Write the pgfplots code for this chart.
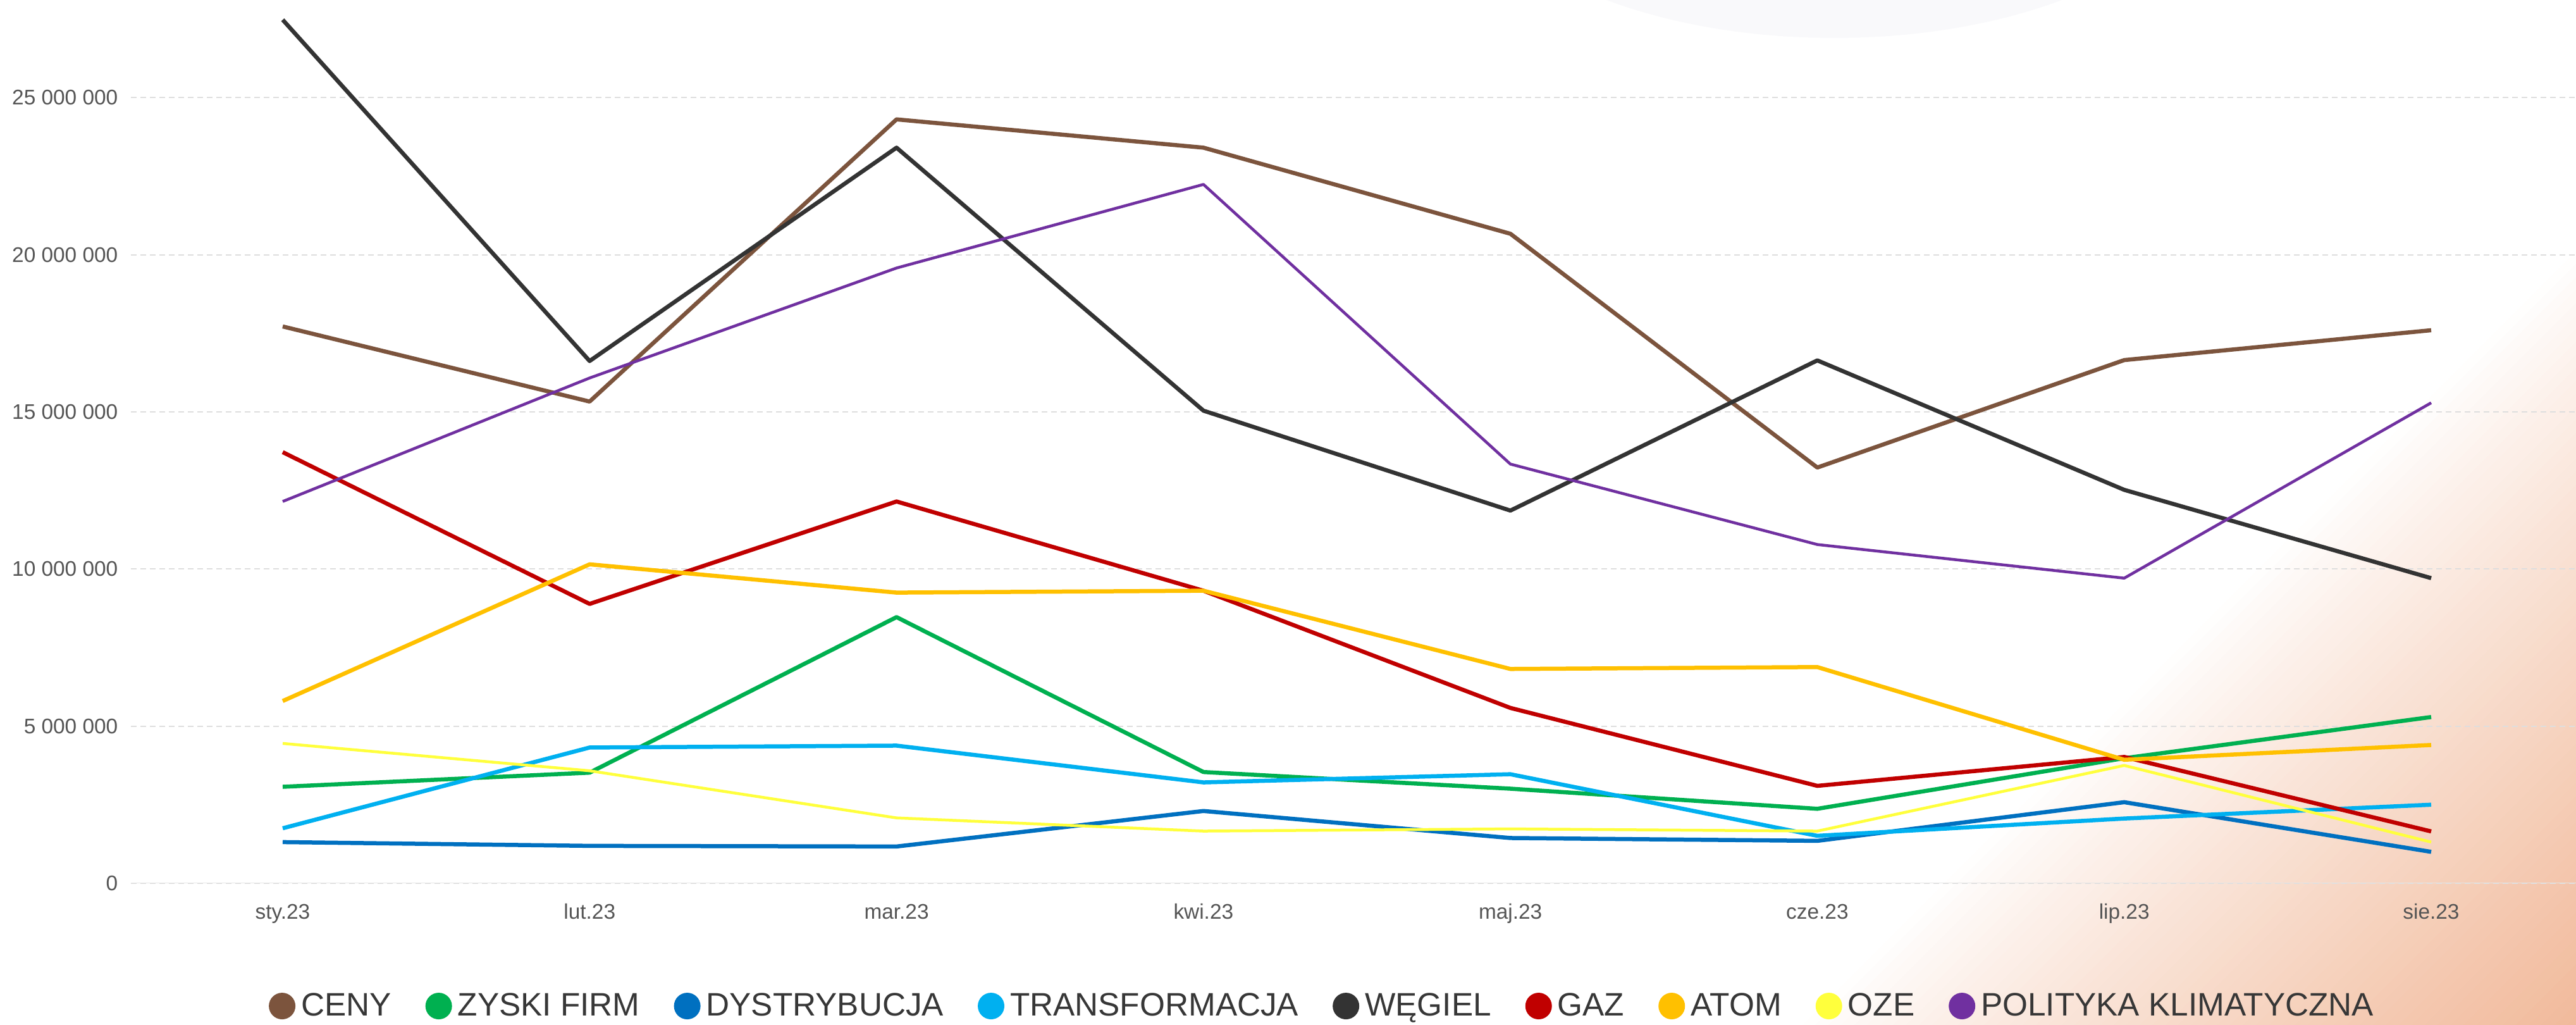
\documentclass[border=0pt]{standalone}
\usepackage{fontspec}
\setmainfont{Liberation Sans}
\usepackage{pgfplots}
\pgfplotsset{compat=1.18}
\definecolor{cCeny}{RGB}{124,84,61}
\definecolor{cZyski}{RGB}{0,176,80}
\definecolor{cDystr}{RGB}{0,112,192}
\definecolor{cTrans}{RGB}{0,176,240}
\definecolor{cWegiel}{RGB}{51,51,51}
\definecolor{cGaz}{RGB}{192,0,0}
\definecolor{cAtom}{RGB}{255,192,0}
\definecolor{cOze}{RGB}{255,255,60}
\definecolor{cPol}{RGB}{112,48,160}
\definecolor{peach}{RGB}{241,186,155}
\definecolor{blobc}{RGB}{249,249,251}
\definecolor{gridc}{RGB}{222,222,222}
\definecolor{basec}{RGB}{228,228,228}
\definecolor{ticktext}{RGB}{85,85,85}
\definecolor{legtext}{RGB}{55,55,55}

\begin{document}
\begin{tikzpicture}
\useasboundingbox (0,0) rectangle (407.3mm,162mm);
\begin{scope}[x=0.1mm,y=0.1mm]
\clip (0,0) rectangle (4073,1620);
\fill[white] (0,0) rectangle (4073,1620);
\fill[blobc] (2900,1860) ellipse [x radius=600, y radius=300];
\foreach \i in {0,...,59}{
  \pgfmathsetmacro{\ca}{2850+\i*20.5}
  \pgfmathsetmacro{\cb}{2850+(\i+1)*20.5+1}
  \pgfmathsetmacro{\f}{100*((\i+0.5)/60)^0.85}
  \fill[peach!\f!white] (\ca-200,-200) -- (\ca+2000,2000) -- (\cb+2000,2000) -- (\cb-200,-200) -- cycle;
}
\end{scope}
\begin{axis}[
  at={(20.7mm,22.4mm)}, anchor=south west,
  scale only axis, width=386.6mm, height=139.6mm,
  xmin=-0.4945, xmax=7.472, ymin=0, ymax=28110000,
  axis line style={draw=none},
  tick style={draw=none}, major tick length=0pt,
  xtick={0,...,7},
  xticklabels={sty.23,lut.23,mar.23,kwi.23,maj.23,cze.23,lip.23,sie.23},
  ytick={0,5000000,10000000,15000000,20000000,25000000},
  yticklabels={0,5 000 000,10 000 000,15 000 000,20 000 000,25 000 000},
  scaled y ticks=false,
  xticklabel style={font=\fontsize{9.5pt}{11pt}\selectfont, text=ticktext, anchor=base, inner sep=0pt, yshift=-5.7mm},
  yticklabel style={font=\fontsize{9.5pt}{11pt}\selectfont, text=ticktext, anchor=east, inner sep=0pt, xshift=-2mm},
  ymajorgrids,
  grid style={gridc, line width=0.2mm, dash pattern=on 0.9mm off 0.6mm},
  legend columns=-1,
  legend cell align=left,
  legend style={at={(0.4868,-0.139)}, anchor=center, draw=none, fill=none,
    font=\fontsize{14.6pt}{17pt}\selectfont, inner sep=0pt,
    nodes={inner sep=0pt, text=legtext},
    /tikz/every odd column/.append style={column sep=0.9mm},
    /tikz/every even column/.append style={column sep=5.4mm}},
  legend image code/.code={\fill[#1, draw=none] (2.1mm,0mm) circle (2.1mm);},
  every axis plot/.append style={line width=0.65mm, line join=round, mark=none},
]
\draw[basec, line width=0.2mm] (rel axis cs:0,0) -- (rel axis cs:1,0);
\addplot[cCeny] coordinates {(0,17720000) (1,15330000) (2,24310000) (3,23410000) (4,20670000) (5,13230000) (6,16650000) (7,17600000)};
\addlegendentry{CENY}
\addplot[cZyski] coordinates {(0,3070000) (1,3520000) (2,8470000) (3,3540000) (4,3010000) (5,2370000) (6,3980000) (7,5290000)};
\addlegendentry{ZYSKI FIRM}
\addplot[cDystr] coordinates {(0,1310000) (1,1190000) (2,1170000) (3,2300000) (4,1440000) (5,1350000) (6,2580000) (7,1000000)};
\addlegendentry{DYSTRYBUCJA}
\addplot[cTrans] coordinates {(0,1750000) (1,4320000) (2,4380000) (3,3210000) (4,3470000) (5,1510000) (6,2060000) (7,2500000)};
\addlegendentry{TRANSFORMACJA}
\addplot[cWegiel] coordinates {(0,27480000) (1,16620000) (2,23410000) (3,15040000) (4,11860000) (5,16640000) (6,12520000) (7,9710000)};
\addlegendentry{WĘGIEL}
\addplot[cGaz] coordinates {(0,13720000) (1,8890000) (2,12150000) (3,9310000) (4,5580000) (5,3100000) (6,4020000) (7,1650000)};
\addlegendentry{GAZ}
\addplot[cAtom] coordinates {(0,5800000) (1,10150000) (2,9250000) (3,9310000) (4,6820000) (5,6880000) (6,3930000) (7,4400000)};
\addlegendentry{ATOM}
\addplot[cOze, line width=0.45mm] coordinates {(0,4450000) (1,3580000) (2,2080000) (3,1660000) (4,1730000) (5,1660000) (6,3750000) (7,1310000)};
\addlegendentry{OZE}
\addplot[cPol, line width=0.45mm] coordinates {(0,12150000) (1,16080000) (2,19580000) (3,22240000) (4,13340000) (5,10780000) (6,9710000) (7,15290000)};
\addlegendentry{POLITYKA KLIMATYCZNA}
\end{axis}
\end{tikzpicture}
\end{document}
